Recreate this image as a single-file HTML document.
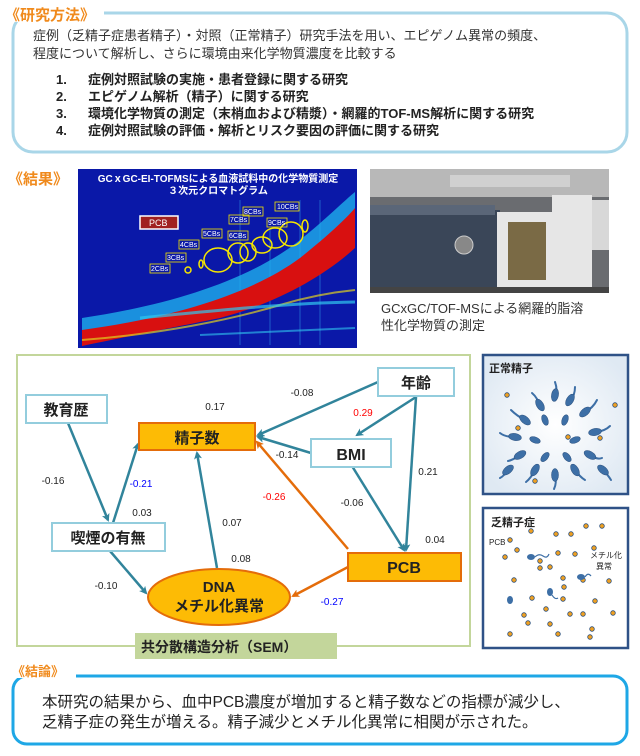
<!DOCTYPE html>
<html><head><meta charset="utf-8"><style>
body{margin:0;width:640px;height:756px;background:#fff;overflow:hidden;font-family:"Liberation Sans","Noto Sans CJK JP",sans-serif}
svg{position:absolute;left:0;top:0}
</style></head><body>
<svg width="640" height="756" viewBox="0 0 640 756" font-family="Liberation Sans, Noto Sans CJK JP, sans-serif">
<defs>
<marker id="at" markerWidth="8" markerHeight="8" refX="6" refY="4" orient="auto" markerUnits="userSpaceOnUse"><path d="M0,0 L8,4 L0,8 L2,4z" fill="#31849b"/></marker>
<marker id="ao" markerWidth="8" markerHeight="8" refX="6" refY="4" orient="auto" markerUnits="userSpaceOnUse"><path d="M0,0 L8,4 L0,8 L2,4z" fill="#e46c0a"/></marker>
<radialGradient id="sp" cx="0.5" cy="0.5" r="0.6"><stop offset="0" stop-color="#fff"/><stop offset="1" stop-color="#dfe9f3"/></radialGradient>
</defs>
<!-- Methods -->
<rect x="13" y="13" width="614" height="139" rx="20" fill="#fff" stroke="#a9d6e8" stroke-width="3"/>
<rect x="4" y="4" width="100" height="18" fill="#fff"/>
<text x="5" y="20" font-size="15" font-weight="bold" fill="#f08a1c">《研究方法》</text>
<g font-size="13" fill="#333">
<text x="33" y="40">症例（乏精子症患者精子）・対照（正常精子）研究手法を用い、エピゲノム異常の頻度、</text>
<text x="33" y="58">程度について解析し、さらに環境由来化学物質濃度を比較する</text>
</g>
<g font-size="13" font-weight="bold" fill="#222">
<text x="56" y="84">1.</text><text x="88" y="84">症例対照試験の実施・患者登録に関する研究</text>
<text x="56" y="101">2.</text><text x="88" y="101">エピゲノム解析（精子）に関する研究</text>
<text x="56" y="118">3.</text><text x="88" y="118">環境化学物質の測定（末梢血および精漿）・網羅的TOF-MS解析に関する研究</text>
<text x="56" y="135">4.</text><text x="88" y="135">症例対照試験の評価・解析とリスク要因の評価に関する研究</text>
</g>
<!-- Results -->
<text x="8" y="184" font-size="15" font-weight="bold" fill="#f08a1c">《結果》</text>
<rect x="78" y="169" width="279" height="179" fill="#0a18a8"/>
<g stroke="#2a8ae0" stroke-width="1" opacity=".6">
<line x1="240" y1="200" x2="240" y2="345"/><line x1="300" y1="200" x2="300" y2="345"/><line x1="320" y1="200" x2="320" y2="345"/><line x1="270" y1="230" x2="270" y2="345"/>
</g>
<path d="M82,318 C170,305 250,280 300,240 C325,220 345,200 355,192 L355,215 C330,245 300,270 250,292 C180,318 130,328 82,334z" fill="#20b8f0" opacity=".75"/>
<path d="M82,330 C170,318 250,295 300,258 C325,238 345,220 355,208 L355,248 C320,280 270,305 220,318 C160,330 120,338 82,346z" fill="#d81010"/>
<path d="M82,340 C160,334 230,320 280,305 C310,296 335,292 355,290" stroke="#e0d020" stroke-width="2" fill="none" opacity=".7"/>
<path d="M140,318 C220,310 290,303 355,302" stroke="#30c8f0" stroke-width="3" fill="none" opacity=".7"/>
<path d="M200,335 C260,332 310,330 355,328" stroke="#30c8f0" stroke-width="2" fill="none" opacity=".6"/>
<text x="218" y="182" font-size="10" font-weight="bold" fill="#fff" text-anchor="middle">GCｘGC-EI-TOFMSによる血液試料中の化学物質測定</text>
<text x="218" y="194" font-size="10" font-weight="bold" fill="#fff" text-anchor="middle">３次元クロマトグラム</text>
<rect x="140" y="216" width="38" height="13" fill="#a02020" stroke="#fff" stroke-width="1.5"/>
<text x="149" y="226" font-size="9" fill="#fff">PCB</text>
<g fill="none" stroke="#f5e600" stroke-width="1.5">
<ellipse cx="188" cy="270" rx="3" ry="3"/><ellipse cx="201" cy="264" rx="2" ry="4"/>
<ellipse cx="218" cy="260" rx="14" ry="12"/><ellipse cx="238" cy="253" rx="10" ry="10"/>
<ellipse cx="248" cy="252" rx="8" ry="9"/><ellipse cx="262" cy="245" rx="10" ry="8"/>
<ellipse cx="275" cy="238" rx="12" ry="10"/><ellipse cx="291" cy="234" rx="12" ry="12"/><ellipse cx="305" cy="226" rx="3" ry="6"/>
</g>
<g fill="none" stroke="#f5e600" stroke-width="0.8">
<rect x="150" y="264" width="20" height="9"/><rect x="166" y="253" width="20" height="9"/><rect x="179" y="240" width="20" height="9"/><rect x="202" y="229" width="20" height="9"/><rect x="228" y="231" width="20" height="9"/><rect x="229" y="215" width="20" height="9"/><rect x="243" y="207" width="20" height="9"/><rect x="267" y="218" width="20" height="9"/><rect x="275" y="202" width="24" height="9"/>
</g>
<g font-size="7" fill="#fff">
<text x="151" y="271">2CBs</text><text x="167" y="260">3CBs</text><text x="180" y="247">4CBs</text><text x="203" y="236">5CBs</text><text x="229" y="238">6CBs</text><text x="230" y="222">7CBs</text><text x="244" y="214">8CBs</text><text x="268" y="225">9CBs</text><text x="277" y="209">10CBs</text>
</g>
<!-- photo -->
<rect x="370" y="169" width="239" height="124" fill="#6a6c70"/>
<rect x="370" y="169" width="239" height="28" fill="#b8b8b8"/>
<rect x="450" y="175" width="120" height="12" fill="#d0d0d0"/>
<rect x="370" y="210" width="130" height="78" fill="#3a4658"/>
<rect x="370" y="205" width="125" height="10" fill="#5a6678"/>
<circle cx="464" cy="245" r="9" fill="#888" stroke="#ccc"/>
<rect x="497" y="212" width="55" height="75" fill="#e6e6e6"/>
<rect x="508" y="222" width="38" height="58" fill="#7a6a45"/>
<rect x="552" y="195" width="40" height="92" fill="#e6e6e6"/>
<rect x="592" y="200" width="17" height="50" fill="#d8d8d8"/>
<rect x="370" y="287" width="239" height="6" fill="#444"/>
<text x="381" y="313" font-size="13" fill="#333">GCxGC/TOF-MSによる網羅的脂溶</text>
<text x="381" y="330" font-size="13" fill="#333">性化学物質の測定</text>
<!-- SEM box -->
<rect x="17" y="355" width="453" height="291" fill="#fff" stroke="#c3d69b" stroke-width="2"/>
<rect x="135" y="633" width="202" height="26" fill="#c3d69b"/>
<text x="141" y="652" font-size="14" font-weight="bold" fill="#222">共分散構造分析（SEM）</text>
<g stroke="#31849b" stroke-width="2.5" fill="none" marker-end="url(#at)">
<line x1="378" y1="382" x2="258" y2="435"/>
<line x1="416" y1="397" x2="357" y2="435"/>
<line x1="416" y1="397" x2="406" y2="550"/>
<line x1="311" y1="453" x2="258" y2="437"/>
<line x1="352" y1="466" x2="404" y2="550"/>
<line x1="68" y1="423" x2="108" y2="520"/>
<line x1="113" y1="523" x2="138" y2="444"/>
<line x1="110" y1="551" x2="146" y2="593"/>
<line x1="217" y1="568" x2="197" y2="453"/>
</g>
<g stroke="#e46c0a" stroke-width="2.5" fill="none" marker-end="url(#ao)">
<line x1="348" y1="549" x2="257" y2="442"/>
<line x1="348" y1="567" x2="293" y2="596"/>
</g>
<g stroke="#93cddd" stroke-width="2" fill="#fff">
<rect x="378" y="368" width="76" height="28"/>
<rect x="26" y="395" width="81" height="28"/>
<rect x="311" y="439" width="80" height="28"/>
<rect x="52" y="523" width="113" height="28"/>
</g>
<g stroke="#e46c0a" stroke-width="2" fill="#fdbb05">
<rect x="139" y="423" width="116" height="27"/>
<rect x="348" y="553" width="113" height="28"/>
<ellipse cx="219" cy="597" rx="71" ry="28"/>
</g>
<g font-weight="bold" fill="#222" text-anchor="middle">
<text x="416" y="388" font-size="15">年齢</text>
<text x="66" y="415" font-size="15">教育歴</text>
<text x="351" y="460" font-size="16">BMI</text>
<text x="108" y="543" font-size="15">喫煙の有無</text>
<text x="197" y="443" font-size="15">精子数</text>
<text x="404" y="573" font-size="16">PCB</text>
<text x="219" y="592" font-size="15">DNA</text>
<text x="219" y="611" font-size="15">メチル化異常</text>
</g>
<g font-size="10" fill="#222" text-anchor="middle">
<text x="302" y="396">-0.08</text>
<text x="215" y="410">0.17</text>
<text x="363" y="416" fill="#ff0000">0.29</text>
<text x="287" y="458">-0.14</text>
<text x="428" y="475">0.21</text>
<text x="53" y="484">-0.16</text>
<text x="141" y="487" fill="#0000ff">-0.21</text>
<text x="274" y="500" fill="#ff0000">-0.26</text>
<text x="352" y="506">-0.06</text>
<text x="142" y="516">0.03</text>
<text x="232" y="526">0.07</text>
<text x="435" y="543">0.04</text>
<text x="241" y="562">0.08</text>
<text x="106" y="589">-0.10</text>
<text x="332" y="605" fill="#0000ff">-0.27</text>
</g>
<!-- sperm panels -->
<rect x="483" y="355" width="145" height="139" fill="url(#sp)" stroke="#2f5287" stroke-width="2.5"/>
<text x="489" y="372" font-size="11" font-weight="bold" fill="#222">正常精子</text>
<g stroke="#3d6fa6" stroke-width="2" fill="none" stroke-linecap="round">
<path d="M555,398 q3,-8 0,-16"/><path d="M540,407 q-2,-9 -8,-14"/><path d="M570,402 q5,-7 5,-15"/><path d="M525,420 q-8,-4 -14,-10"/><path d="M585,412 q8,-4 12,-12"/><path d="M514,437 q-9,0 -14,-4"/><path d="M596,432 q9,-1 14,-6"/><path d="M520,455 q-7,5 -12,6"/><path d="M590,455 q7,5 12,3"/><path d="M535,470 q-4,8 -9,12"/><path d="M555,475 q2,8 -1,14"/><path d="M575,470 q5,7 10,10"/><path d="M508,470 q-4,6 -8,8"/><path d="M603,470 q5,5 8,10"/>
</g>
<g fill="#3d6fa6" stroke="#2a4f7d" stroke-width="0.5">
<ellipse cx="555" cy="395" rx="3.5" ry="6.5" transform="rotate(10 555 395)"/><ellipse cx="540" cy="405" rx="3.5" ry="6.5" transform="rotate(-30 540 405)"/><ellipse cx="570" cy="400" rx="3.5" ry="6.5" transform="rotate(30 570 400)"/><ellipse cx="525" cy="420" rx="3.5" ry="6.5" transform="rotate(-50 525 420)"/><ellipse cx="585" cy="412" rx="3.5" ry="6.5" transform="rotate(50 585 412)"/><ellipse cx="515" cy="437" rx="3.5" ry="6.5" transform="rotate(-80 515 437)"/><ellipse cx="595" cy="432" rx="3.5" ry="6.5" transform="rotate(80 595 432)"/><ellipse cx="520" cy="455" rx="3.5" ry="6.5" transform="rotate(-120 520 455)"/><ellipse cx="590" cy="455" rx="3.5" ry="6.5" transform="rotate(120 590 455)"/><ellipse cx="535" cy="470" rx="3.5" ry="6.5" transform="rotate(-150 535 470)"/><ellipse cx="555" cy="475" rx="3.5" ry="6.5" transform="rotate(180 555 475)"/><ellipse cx="575" cy="470" rx="3.5" ry="6.5" transform="rotate(150 575 470)"/><ellipse cx="545" cy="420" rx="3" ry="5.5" transform="rotate(-20 545 420)"/><ellipse cx="565" cy="420" rx="3" ry="5.5" transform="rotate(20 565 420)"/><ellipse cx="535" cy="440" rx="3" ry="5.5" transform="rotate(-70 535 440)"/><ellipse cx="575" cy="440" rx="3" ry="5.5" transform="rotate(70 575 440)"/><ellipse cx="545" cy="457" rx="3" ry="5.5" transform="rotate(-140 545 457)"/><ellipse cx="567" cy="457" rx="3" ry="5.5" transform="rotate(140 567 457)"/><ellipse cx="508" cy="470" rx="3.5" ry="6.5" transform="rotate(-130 508 470)"/><ellipse cx="603" cy="470" rx="3.5" ry="6.5" transform="rotate(130 603 470)"/>
</g>
<g fill="#f0a020" stroke="#2a4f7d" stroke-width="0.8">
<circle cx="507" cy="395" r="2.3"/><circle cx="615" cy="405" r="2.3"/><circle cx="568" cy="437" r="2.3"/><circle cx="600" cy="438" r="2.3"/><circle cx="535" cy="481" r="2.3"/><circle cx="518" cy="428" r="2.3"/>
</g>
<rect x="483" y="508" width="145" height="140" fill="#fff" stroke="#2f5287" stroke-width="2.5"/>
<text x="491" y="526" font-size="11" font-weight="bold" fill="#222">乏精子症</text>
<text x="489" y="545" font-size="8" fill="#222">PCB</text>
<text x="590" y="558" font-size="8" fill="#222">メチル化</text>
<text x="596" y="569" font-size="8" fill="#222">異常</text>
<g fill="#f0a020" stroke="#2a4f7d" stroke-width="0.8">
<circle cx="531" cy="531" r="2.3"/><circle cx="556" cy="534" r="2.3"/><circle cx="571" cy="534" r="2.3"/><circle cx="586" cy="526" r="2.3"/><circle cx="602" cy="526" r="2.3"/><circle cx="510" cy="540" r="2.3"/><circle cx="517" cy="550" r="2.3"/><circle cx="505" cy="557" r="2.3"/><circle cx="540" cy="561" r="2.3"/><circle cx="558" cy="553" r="2.3"/><circle cx="575" cy="554" r="2.3"/><circle cx="594" cy="548" r="2.3"/><circle cx="583" cy="580" r="2.3"/><circle cx="540" cy="568" r="2.3"/><circle cx="550" cy="567" r="2.3"/><circle cx="514" cy="580" r="2.3"/><circle cx="563" cy="578" r="2.3"/><circle cx="609" cy="581" r="2.3"/><circle cx="564" cy="587" r="2.3"/><circle cx="532" cy="598" r="2.3"/><circle cx="563" cy="599" r="2.3"/><circle cx="595" cy="601" r="2.3"/><circle cx="546" cy="609" r="2.3"/><circle cx="570" cy="614" r="2.3"/><circle cx="583" cy="614" r="2.3"/><circle cx="524" cy="615" r="2.3"/><circle cx="613" cy="613" r="2.3"/><circle cx="528" cy="623" r="2.3"/><circle cx="550" cy="624" r="2.3"/><circle cx="510" cy="634" r="2.3"/><circle cx="558" cy="634" r="2.3"/><circle cx="592" cy="629" r="2.3"/><circle cx="590" cy="637" r="2.3"/>
</g>
<g stroke="#3d6fa6" stroke-width="1.2" fill="none"><path d="M535,557 q4,-4 8,-1 t6,-2"/><path d="M585,577 q3,-5 6,-1"/><path d="M552,595 q3,5 6,3"/></g>
<g fill="#3d6fa6"><ellipse cx="531" cy="557" rx="4" ry="3"/><ellipse cx="581" cy="577" rx="4" ry="3"/><ellipse cx="550" cy="592" rx="3" ry="4"/><ellipse cx="510" cy="600" rx="3" ry="4"/></g>
<!-- Conclusion -->
<rect x="13" y="676" width="614" height="68" rx="14" fill="#fff" stroke="#1ea7e6" stroke-width="3"/>
<rect x="10" y="662" width="66" height="16" fill="#fff"/>
<text x="12" y="676" font-size="13" font-weight="bold" fill="#f08a1c">《結論》</text>
<g font-size="15.5" fill="#222">
<text x="42" y="707">本研究の結果から、血中PCB濃度が増加すると精子数などの指標が減少し、</text>
<text x="42" y="727">乏精子症の発生が増える。精子減少とメチル化異常に相関が示された。</text>
</g>
</svg>
</body></html>
